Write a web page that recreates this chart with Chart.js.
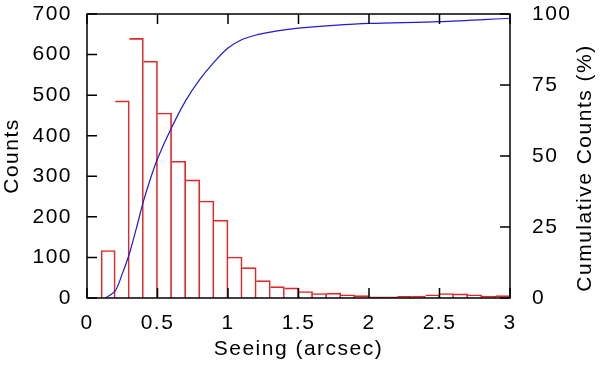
<!DOCTYPE html>
<html>
<head>
<meta charset="utf-8">
<script src="https://cdn.jsdelivr.net/npm/chart.js@4/dist/chart.umd.min.js"></script>
<style>
  body { margin: 0; background: #fff; }
  canvas { display: block; }
</style>
</head>
<body>
<canvas id="myChart" width="600" height="368"></canvas>
<script>
// histogram bins (centres, arcsec) and counts
const binCenters = [0.15, 0.25, 0.35, 0.45, 0.55, 0.65, 0.75, 0.85, 0.95, 1.05,
  1.15, 1.25, 1.35, 1.45, 1.55, 1.65, 1.75, 1.85, 1.95, 2.05,
  2.15, 2.25, 2.35, 2.45, 2.55, 2.65, 2.75, 2.85, 2.95];
const counts = [117, 486, 640, 584, 456, 337, 291, 239, 192, 101,
  75, 43, 28, 25, 16, 11, 12, 8, 6, 3,
  3, 4, 5, 8, 11, 10, 8, 5, 6];

// cumulative curve (%)
const cumSeeing = [0.13, 0.2, 0.25, 0.3, 0.35, 0.4, 0.45, 0.5, 0.6, 0.7, 0.8, 0.9,
  1.0, 1.1, 1.2, 1.3, 1.4, 1.5, 1.75, 2.0, 2.5, 3.0];
const cumPercent = [0, 2.5, 8.5, 15.5, 24.5, 34, 42, 49, 60, 69.5, 77, 83,
  88, 91, 92.6, 93.6, 94.4, 95, 96, 96.7, 97.3, 98.5];

// tick labels
const xTicks = [0, 0.5, 1, 1.5, 2, 2.5, 3];
const countTicks = [0, 100, 200, 300, 400, 500, 600, 700];
const pctTicks = [0, 25, 50, 75, 100];

const FONT = { family: "'Liberation Sans', Arial, sans-serif", size: 21 };

//gnuplot style frame with inward ticks + right title
const frameTicks = {
  id: "frameTicks",
  beforeDraw(chart) {
    chart.ctx.letterSpacing = "1.5px";
  },
  afterDraw(chart) {
    const { ctx, chartArea: a, scales } = chart;
    const len = 10;
    ctx.save();
    ctx.strokeStyle = "#000";
    ctx.lineWidth = 1.5;
    ctx.beginPath();
    xTicks.forEach((v) => {
      const px = scales.x.getPixelForValue(v);
      ctx.moveTo(px, a.bottom);
      ctx.lineTo(px, a.bottom - len);
      ctx.moveTo(px, a.top);
      ctx.lineTo(px, a.top + len);
    });
    countTicks.forEach((v) => {
      const py = scales.y.getPixelForValue(v);
      ctx.moveTo(a.left, py);
      ctx.lineTo(a.left + len, py);
    });
    pctTicks.forEach((v) => {
      const py = scales.y2.getPixelForValue(v);
      ctx.moveTo(a.right, py);
      ctx.lineTo(a.right - len, py);
    });
    ctx.stroke();
    ctx.strokeRect(a.left, a.top, a.right - a.left, a.bottom - a.top);

    // right axis title reads bottom-to-top like the left one
    ctx.translate(585, 168);
    ctx.rotate(-Math.PI / 2);
    ctx.font = FONT.size + "px " + FONT.family;
    ctx.fillStyle = "#000";
    ctx.textAlign = "center";
    ctx.textBaseline = "middle";
    ctx.fillText("Cumulative Counts (%)", 0, 0);
    ctx.restore();
  },
};

// keep tick labels from pushing the plot area down
function fixedWidth(w) {
  return function (s) {
    s.width = w;
    s.paddingTop = 0;
    s.paddingBottom = 0;
  };
}

const ctx = document.getElementById("myChart").getContext("2d");

const chart = new Chart(ctx, {
  type: "bar",
  data: {
    datasets: [
      {
        type: "line",
        label: "Cumulative",
        data: cumSeeing.map((x, i) => ({ x: x, y: cumPercent[i] })),
        yAxisID: "y2",
        borderColor: "#1c1cd0",
        borderWidth: 1.2,
        pointRadius: 0,
        tension: 0.3,
        order: 0,
      },
      {
        label: "Counts",
        data: binCenters.map((x, i) => ({ x: x, y: counts[i] })),
        yAxisID: "y",
        backgroundColor: "rgba(255,255,255,0)",
        borderColor: "#e02828",
        borderWidth: (c) => ({ top: 1, right: 1, bottom: 0, left: c.dataIndex === 0 ? 1 : 0 }),
        borderSkipped: false,
        barPercentage: 1,
        categoryPercentage: 1,
        order: 1,
      },
    ],
  },
  options: {
    responsive: false,
    animation: false,
    layout: { padding: { top: 14, left: 0, right: 0, bottom: 0 } },
    plugins: { legend: { display: false }, tooltip: { enabled: false } },
    scales: {
      x: {
        type: "linear",
        min: 0,
        max: 3,
        offset: false,
        grid: { display: false, drawTicks: false },
        border: { display: false },
        ticks: {
          stepSize: 0.5,
          color: "#000",
          font: FONT,
          padding: 13,
          maxRotation: 0,
          callback: (v) => String(Number(v.toFixed(1))),
        },
        title: { display: true, text: "Seeing (arcsec)", color: "#000", font: FONT, padding: { top: 0, bottom: 6 } },
        afterFit(s) {
          s.height = 70;
        },
      },
      y: {
        position: "left",
        min: 0,
        max: 700,
        grid: { display: false, drawTicks: false },
        border: { display: false },
        ticks: { stepSize: 100, color: "#000", font: FONT, padding: 15 },
        title: { display: true, text: "Counts", color: "#000", font: FONT, padding: 0 },
        afterFit: fixedWidth(87),
      },
      y2: {
        position: "right",
        min: 0,
        max: 100,
        grid: { display: false, drawTicks: false },
        border: { display: false },
        ticks: { stepSize: 25, color: "#000", font: FONT, padding: 22 },
        afterFit: fixedWidth(90),
      },
    },
  },
  plugins: [frameTicks],
});
</script>
</body>
</html>
